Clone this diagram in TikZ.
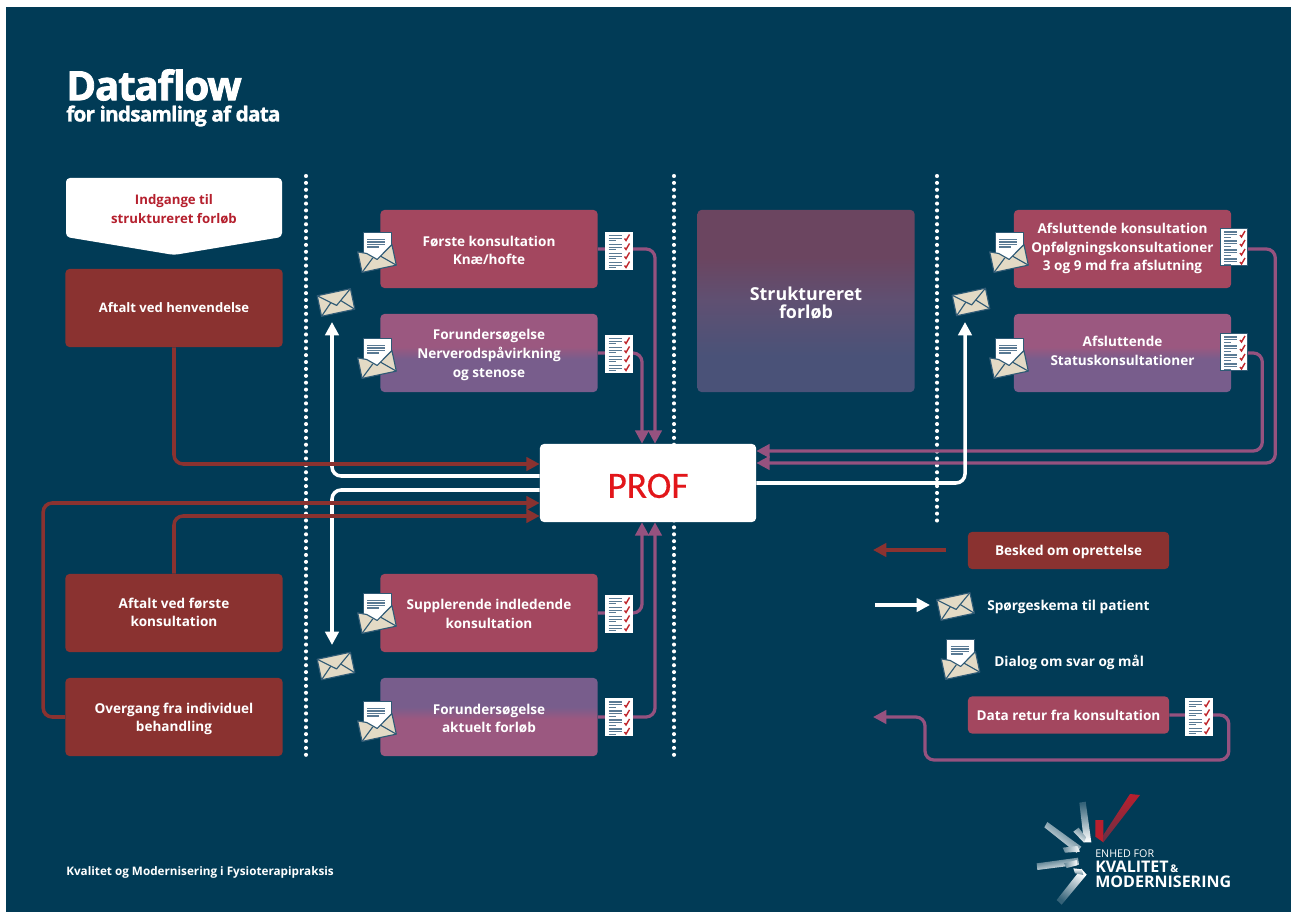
\documentclass[tikz,border=0pt]{standalone}
\usepackage{fontspec}
\setmainfont{Open Sans}
\newfontfamily\proffont[FakeBold=0.4]{Carlito}
\newfontfamily\titlefont[BoldFeatures={FakeBold=2,LetterSpace=-3}]{Open Sans}
\newfontfamily\subfont[BoldFeatures={FakeBold=1.4,LetterSpace=-4}]{Open Sans}
\usetikzlibrary{arrows.meta,calc}
\definecolor{bgblue}{HTML}{013B56}
\definecolor{brick}{HTML}{8A3230}
\definecolor{rose}{HTML}{A3475F}
\definecolor{mauve}{HTML}{9B5880}
\definecolor{violet}{HTML}{785D8C}
\definecolor{strA}{HTML}{6B4560}
\definecolor{strB}{HTML}{5F5072}
\definecolor{strC}{HTML}{4A5278}
\definecolor{linepink}{HTML}{95527F}
\definecolor{envbeige}{HTML}{E3DAC5}
\definecolor{envline}{HTML}{2F5A75}
\definecolor{rowblue}{HTML}{5A7A94}
\definecolor{tickred}{HTML}{C0272D}
\definecolor{titlered}{HTML}{B5202E}
\definecolor{profred}{HTML}{E2161A}
\definecolor{logored}{HTML}{B81F2E}
\definecolor{logodark}{HTML}{6B3045}
\pgfdeclareverticalshading{mauvetop}{100bp}{color(0bp)=(violet); color(46bp)=(violet); color(54bp)=(mauve); color(100bp)=(mauve)}
\pgfdeclareverticalshading{violettop}{100bp}{color(0bp)=(mauve); color(49bp)=(mauve); color(56.5bp)=(violet); color(100bp)=(violet)}
\pgfdeclareverticalshading{strshade}{100bp}{color(0bp)=(strC); color(35bp)=(strC); color(50bp)=(strB); color(62bp)=(strA); color(100bp)=(strA)}
\newcommand\boxhead{\rule{0pt}{\pgfkeysvalueof{/tikz/texttop}}}
\newcommand\boxfoot{\rule[-\pgfkeysvalueof{/tikz/textbot}]{0pt}{\pgfkeysvalueof{/tikz/textbot}}}
\tikzset{
  x=0.025cm,y=-0.025cm,
  texttop/.initial=10pt,
  textbot/.initial=0.8pt,
  base/.style={rectangle,rounded corners=2.8pt,inner sep=0pt,align=center,text=white,
    font=\fontsize{9.65}{13.3}\selectfont\bfseries},
  bigbox/.style={base,minimum width=5.425cm,minimum height=1.95cm},
  brickbox/.style={bigbox,fill=brick},
  rosebox/.style={bigbox,fill=rose},
  mauvebox/.style={bigbox,shading=mauvetop},
  violetbox/.style={bigbox,shading=violettop},
  strbox/.style={bigbox,minimum height=4.55cm,shading=strshade,font=\fontsize{12.7}{13.2}\selectfont\bfseries,texttop=13pt,textbot=1pt},
  legendbox/.style={base,minimum width=5.025cm,minimum height=0.925cm},
  plainlabel/.style={inner sep=0pt,text=white,font=\fontsize{9.7}{13}\selectfont\bfseries},
  dots/.style={white,line width=2.9pt,line cap=round,dash pattern=on 0pt off 4.9pt},
  flow/.style={rounded corners=6.4pt,-{Triangle[length=9.5pt,width=9.5pt]}},
  redline/.style={flow,draw=brick,line width=2.5pt},
  pinkline/.style={flow,draw=linepink,line width=2.3pt},
  whiteline/.style={flow,draw=white,line width=2.5pt},
  sheetedge/.style={draw=white},
  envclosed/.pic={
    \begin{scope}[rotate=12,line width=0.8pt,draw=envline,line join=round]
      \filldraw[fill=envbeige] (-17,-10.5) rectangle (17,10.5);
      \draw (-17,-10.5) -- (0,3) -- (17,-10.5);
      \draw (-17,10.5) -- (-5,-1);
      \draw (17,10.5) -- (5,-1);
    \end{scope}},
  envopen/.pic={
    \begin{scope}[line join=round]
      \filldraw[fill=white,draw=envline,line width=0.7pt] (-14,-21) rectangle (14,8);
      \foreach \yy/\xx in {-13.5/8,-11/8,-8.5/8,-6/2}{\draw[rowblue,line width=0.9pt] (-10,\yy) -- (\xx,\yy);}
      \begin{scope}[shift={(0,5.5)},rotate=12,line width=0.8pt,draw=envline]
        \filldraw[fill=envbeige] (-17.5,-10.5) -- (-9,-7) -- (0,1) -- (9,-5) -- (17.5,-10.5) -- (17.5,10.5) -- (-17.5,10.5) -- cycle;
        \draw (-17.5,10.5) -- (-4,-1.5);
        \draw (17.5,10.5) -- (4,-1.5);
      \end{scope}
    \end{scope}},
  checksheet/.pic={
    \filldraw[fill=white,sheetedge,line width=0.5pt] (-13.5,-18.5) rectangle (13.5,18.5);
    \foreach \gy in {-15,-6,3,12}{
      \draw[rowblue,line width=0.75pt] (-10,\gy) -- (3,\gy);
      \draw[rowblue,line width=0.75pt] (-10,\gy+2.8) -- (3,\gy+2.8);
      \draw[rowblue,line width=0.75pt] (-10,\gy+5.4) -- (-3,\gy+5.4);
      \draw[tickred,line width=1pt] (6,\gy+3) -- (7.5,\gy+5) -- (11,\gy-1);
    }},
}
\begin{document}
\begin{tikzpicture}
\useasboundingbox (0,0) rectangle (1291,912);
\fill[white] (0,0) rectangle (1291,912);
\fill[bgblue] (6,7) rectangle (1291,912);

% title
\node[anchor=west,inner sep=0pt,text=white] (title) at (66,85) {\titlefont\fontsize{28.7}{30}\selectfont\bfseries Dataflow};
\node[anchor=west,inner sep=0pt,text=white] (subtitle) at (66,116) {\subfont\fontsize{14.8}{16}\selectfont\bfseries for indsamling af data};
\node[anchor=west,inner sep=0pt,text=white,font=\fontsize{8.33}{11}\selectfont\bfseries] (footer) at (66,872) {Kvalitet og Modernisering i Fysioterapipraksis};

% dotted separators
\coordinate (d1a) at (306,176); \coordinate (d1b) at (306,760);
\coordinate (d2a) at (674,176); \coordinate (d2b) at (674,760);
\coordinate (d3a) at (937,176); \coordinate (d3b) at (937,522);
\draw[dots] (d1a) -- (d1b);
\draw[dots] (d2a) -- (d2b);
\draw[dots] (d3a) -- (d3b);

% entry banner
\fill[white,rounded corners=2.8pt] (66,178) -- (282,178) -- (282,237) -- (174,255) -- (66,237) -- cycle;
\node[inner sep=0pt,align=center,text=titlered,font=\fontsize{9.4}{13.2}\selectfont\bfseries] (entry) at (174,209.5) {Indgange til\\struktureret forløb};

% boxes
\node[brickbox,font=\fontsize{9.3}{13.2}\selectfont\bfseries,texttop=9pt,textbot=3.2pt] (henv) at (174,308) {\boxhead Aftalt ved henvendelse\boxfoot};
\node[brickbox,texttop=9pt,textbot=2.5pt] (aftalt) at (174,613) {\boxhead Aftalt ved første\\konsultation\boxfoot};
\node[brickbox] (overg) at (174,717) {\boxhead Overgang fra individuel\\behandling\boxfoot};
\node[rosebox] (forste) at (489,249) {\boxhead Første konsultation\\Knæ/hofte\boxfoot};
\node[mauvebox] (nerve) at (489,353) {\boxhead Forundersøgelse\\Nerverodspåvirkning\\og stenose\boxfoot};
\node[rosebox,texttop=9.5pt] (suppl) at (489,613) {\boxhead Supplerende indledende\\konsultation\boxfoot};
\node[violetbox] (aktuelt) at (489,717) {\boxhead Forundersøgelse\\aktuelt forløb\boxfoot};
\node[strbox] (struk) at (806,301) {\boxhead Struktureret\\forløb\boxfoot};
\node[rosebox,texttop=9pt,textbot=4.6pt] (afsl) at (1122.5,249) {\boxhead Afsluttende konsultation\\Opfølgningskonsultationer\\3 og 9 md fra afslutning\boxfoot};
\node[mauvebox,texttop=9pt,textbot=4.6pt] (status) at (1122.5,353) {\boxhead Afsluttende\\Statuskonsultationer\boxfoot};
\node[base,fill=white,minimum width=5.4cm,minimum height=1.95cm,text=profred,font=\proffont\fontsize{26.5}{28}\selectfont,texttop=22pt] (prof) at (648,483) {\boxhead PROF\boxfoot};

% legend boxes
\node[legendbox,fill=brick,texttop=9pt,textbot=1.1pt] (besked) at (1068.5,550.5) {\boxhead Besked om oprettelse\boxfoot};
\node[legendbox,fill=rose,texttop=9pt,textbot=1.8pt] (retur) at (1068.5,715) {\boxhead Data retur fra konsultation\boxfoot};
\node[plainlabel,anchor=west] (spg) at (987,607) {Spørgeskema til patient};
\node[plainlabel,anchor=west] (dialog) at (994,662) {Dialog om svar og mål};

% pink connectors
\draw[pinkline] (forste.east) -| ($(prof.north)+(7,0)$);
\draw[pinkline] (nerve.east) -| ($(prof.north)+(-6,0)$);
\draw[pinkline] (suppl.east) -| ($(prof.south)+(-6,0)$);
\draw[pinkline] (aktuelt.east) -| ($(prof.south)+(7,0)$);
\draw[pinkline] (afsl.east) -- ++(44,0) |- ($(prof.east)+(0,-20)$);
\draw[pinkline] (status.east) -- ++(31,0) |- ($(prof.east)+(0,-32)$);

% white connectors
\coordinate (e1) at (332,322);
\coordinate (e2) at (332,645);
\coordinate (e3) at (965,322);
\draw[whiteline] ($(prof.west)+(0,-7)$) -| (e1);
\draw[whiteline] ($(prof.west)+(0,7)$) -| (e2);
\draw[whiteline] (prof.east) -| (e3);

% red connectors
\draw[redline] (henv.south) |- ($(prof.west)+(0,-19)$);
\draw[redline] (aftalt.north) |- ($(prof.west)+(0,33)$);
\draw[redline] (overg.west) -- ++(-22,0) |- ($(prof.west)+(0,20)$);

% legend arrows
\coordinate (l1a) at (946,550); \coordinate (l1b) at (873,550);
\coordinate (l2a) at (875,605); \coordinate (l2b) at (930,605);
\coordinate (l3) at (873,717);
\draw[redline] (l1a) -- (l1b);
\draw[whiteline] (l2a) -- (l2b);
\draw[pinkline] (retur.east) -- ++(59.5,0) -- ++(0,45) -| (925,717) -- (l3);

% envelopes
\foreach \ex/\ey in {377/253,377/359,377/614,377/722,1009/253,1009/359,960.5/660}{
  \pic at (\ex,\ey) {envopen};}
\pic at (336,302.5) {envclosed};
\pic at (336,666) {envclosed};
\pic at (971,302) {envclosed};
\pic at (955.5,606.5) {envclosed};

% check sheets
\pic at (618.5,250.5) {checksheet};
\pic at (618.5,353.5) {checksheet};
\pic at (618.5,613.5) {checksheet};
\pic at (618.5,717) {checksheet};
\pic at (1198.5,716.5) {checksheet};
\begin{scope}[sheetedge/.style={draw=envline}]
  \pic at (1234,247) {checksheet};
  \pic at (1234,352) {checksheet};
\end{scope}

% logo
\begin{scope}[shift={(1020,780)},x=0.008333cm,y=-0.008333cm]
  \fill[logored] (226,120) -- (250,120) -- (250,187) -- (226,170) -- cycle;
  \shade[bottom color=logodark,top color=logored] (330,42) -- (360,45) -- (250,187) -- (250,165) -- cycle;
  \shade[top color=bgblue!80!white,bottom color=white,shading angle=5] (178,68) -- (197,65) -- (214,187) -- (192,187) -- cycle;
  \shade[top color=bgblue!60!white,bottom color=white,shading angle=-30] (160,155) -- (176,143) -- (198,172) -- (192,188) -- cycle;
  \shade[left color=bgblue!80!white,right color=white,shading angle=-35] (82,126) -- (73,142) -- (170,219) -- (184,200) -- cycle;
  \shade[left color=bgblue!60!white,right color=white] (128,203) -- (172,198) -- (180,215) -- (135,218) -- cycle;
  \shade[left color=bgblue!80!white,right color=white,shading angle=10] (50,250) -- (52,270) -- (177,254) -- (174,233) -- cycle;
  \shade[left color=bgblue!60!white,right color=white] (132,250) -- (170,240) -- (172,256) -- (140,264) -- cycle;
  \shade[bottom color=bgblue!80!white,top color=white,shading angle=-35] (110,360) -- (125,374) -- (200,284) -- (184,266) -- cycle;
  \shade[bottom color=bgblue!60!white,top color=white] (160,265) -- (185,268) -- (190,285) -- (165,280) -- cycle;
\end{scope}
\node[anchor=west,inner sep=0pt,text=white,font=\fontsize{7.6}{8}\selectfont] (lg1) at (1095,853.5) {ENHED FOR};
\node[anchor=west,inner sep=0pt,text=white,font=\fontsize{11.4}{13}\selectfont\bfseries] (lg2) at (1095,866.5) {KVALITET{\fontsize{7.5}{8}\selectfont\,\&}};
\node[anchor=west,inner sep=0pt,text=white,font=\fontsize{11.4}{13}\selectfont\bfseries] (lg3) at (1095,882) {MODERNISERING};
\end{tikzpicture}
\end{document}
